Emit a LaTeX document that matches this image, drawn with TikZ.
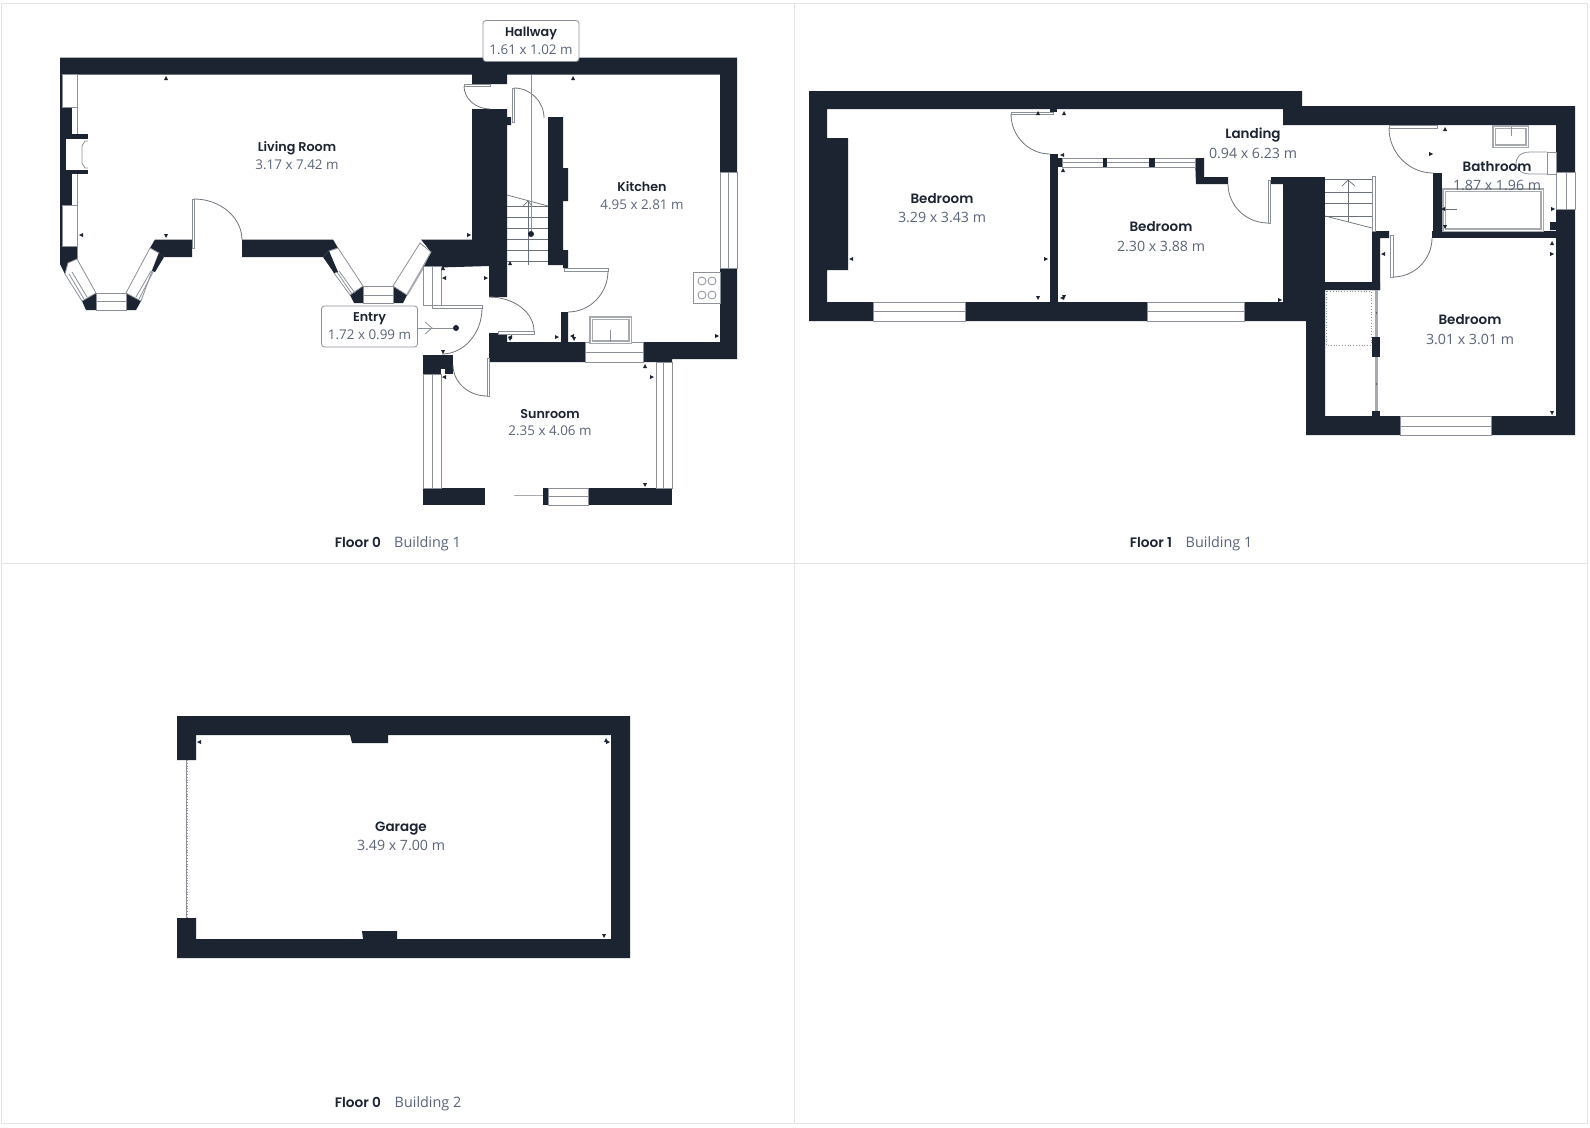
\documentclass[tikz,border=0pt]{standalone}
\usepackage{fontspec}
\setmainfont{Open Sans}
\newfontfamily\namefont{Poppins}[UprightFont=* SemiBold,Scale=0.95]
\usetikzlibrary{calc}
\definecolor{wallcol}{HTML}{1B2430}
\definecolor{dimcol}{HTML}{5B6577}
\definecolor{glasscol}{HTML}{8C9199}
\definecolor{fittingcol}{HTML}{A6A9AE}
\definecolor{panelcol}{HTML}{E4E4E4}
\tikzset{
  wall/.style={fill=wallcol,draw=none},
  glass/.style={draw=glasscol,line width=0.8pt,fill=white},
  thinline/.style={draw=glasscol,line width=0.8pt},
  fixture/.style={draw=fittingcol,line width=1.3pt,double=white,double distance=0.5pt},
  swing/.style={draw=glasscol!80!black,line width=0.8pt},
  stairline/.style={draw=wallcol!65!white,line width=0.7pt},
  roomlabel/.style={align=center,inner sep=0pt,font=\fontsize{13.4}{17.8}\selectfont,text=dimcol},
  biglabel/.style={align=center,inner sep=0pt,font=\fontsize{14.2}{19.6}\selectfont,text=dimcol},
  floorlabel/.style={inner sep=0pt,anchor=base,font=\fontsize{14.4}{18}\selectfont,text=dimcol},
  tagbox/.style={roomlabel,draw=glasscol,fill=white,rounded corners=3pt,line width=0.8pt,minimum width=96pt,minimum height=41pt},
  mkup/.pic={\fill[wallcol] (-2,2)--(2,2)--(0,-2)--cycle;},
  mkdown/.pic={\fill[wallcol] (-2,-2)--(2,-2)--(0,2)--cycle;},
  mkleft/.pic={\fill[wallcol] (2,-2)--(2,2)--(-2,0)--cycle;},
  mkright/.pic={\fill[wallcol] (-2,-2)--(-2,2)--(2,0)--cycle;},
}
\newcommand{\swingarc}[3]{\draw[swing] #1 .. controls ($#1!.55!#2$) and ($#3!.55!#2$) .. #3;}
\newcommand{\roomname}[1]{{\namefont\color{wallcol}#1}}
\begin{document}
\begin{tikzpicture}[x=1pt,y=-1pt]
\useasboundingbox (0,0) rectangle (1590,1127);
\fill[white] (0,0) rectangle (1590,1127);
% panels
\draw[panelcol,line width=1pt] (1,3) rectangle (1587,1123);
\draw[panelcol,line width=1pt] (794.5,3) -- (794.5,1123);
\draw[panelcol,line width=1pt] (1,563) -- (1587,563);

% floor 0, walls
\fill[wall] (60,57.5) -- (737,57.5) -- (737,172) -- (720,172) -- (720,74.5) -- (507,74.5) -- (507,84) -- (472,84) -- (472,74.5) -- (62,74.5) -- (62,263) -- (60,263) -- cycle;
\fill[wall] (62,107) rectangle (72,205);
\fill[wall] (72,134) rectangle (88,174);
\fill[white] (66,139) rectangle (88,170);
\draw[thinline] (88,141) -- (85,141) -- (82,146) -- (82,163) -- (85,168) -- (88,168);
\fill[wall] (60,246) -- (77,246) -- (77,259) -- (68,263) -- (65,274) -- (60,264) -- cycle;
\fill[wall] (82,301) -- (96,293) -- (96,310) -- (86,310) -- cycle;
\fill[wall] (126,293) -- (141,301) -- (136,310) -- (126,310) -- cycle;
\fill[wall] (155,239.5) -- (192,239.5) -- (192,257) -- (164,257) -- (159,253) -- (150,248) -- cycle;
\fill[wall] (242,239.5) -- (333,239.5) -- (338,248) -- (329,251) -- (323,257) -- (242,257) -- cycle;
\fill[wall] (350,295) -- (363,286) -- (363,303) -- (354,303) -- cycle;
\fill[wall] (393,286) -- (407,295) -- (403,303) -- (393,303) -- cycle;
\fill[wall] (421,239.5) -- (472,239.5) -- (472,109) -- (507,109) -- (507,117) -- (511,117) -- (511,125) -- (507,125) -- (507,297) -- (489,297) -- (489,266) -- (423,268) -- (431,252) -- cycle;
\fill[wall] (548,117) -- (563,117) -- (563,168) -- (568,168) -- (568,201) -- (563,201) -- (563,250) -- (568,250) -- (568,268) -- (563,268) -- (563,265) -- (548,265) -- cycle;
\fill[wall] (720,268) -- (737,268) -- (737,359) -- (672,359) -- (672,362) -- (643,362) -- (643,342) -- (720,342) -- cycle;
\fill[wall] (489,333) -- (507,333) -- (507,342) -- (561,342) -- (561,312) -- (568,312) -- (568,342) -- (585,342) -- (585,362) -- (489,362) -- cycle;
\fill[wall] (423,355) rectangle (453,374);
\fill[white] (441,369) rectangle (445,374);
\fill[wall] (423,488) rectangle (485,505);
\fill[wall] (543,488) rectangle (548,505);
\fill[wall] (588,488) rectangle (672,505);

% floor 0, windows
\draw[glass] (62,74.5) rectangle (77,107);
\draw[glass] (62,205) rectangle (77,246);
\draw[thinline] (77,74.5) -- (77,134) (77,174) -- (77,259);
\draw[glass] (68,263) -- (77,259) -- (96,293) -- (82,301) -- (65,274) -- cycle;
\draw[thinline] (69,274) -- (84,299) (72,272) -- (87,297);
\draw[glass] (96,293) rectangle (126,310);
\draw[thinline] (96,301) -- (126,301);
\draw[glass] (126,293) -- (150,248) -- (159,253) -- (152,271) -- (141,301) -- cycle;
\fill[wall] (159,253) -- (164,257) -- (155,272) -- (152,271) -- cycle;
\draw[thinline] (136,297) -- (151,271) (139,299) -- (153,272);
\draw[glass] (329,251) -- (338,248) -- (363,286) -- (350,295) -- (334,273) -- cycle;
\fill[wall] (329,251) -- (323,257) -- (334,273) -- (338,272) -- cycle;
\draw[thinline] (337,272) -- (352,294) (339,271) -- (355,293);
\draw[glass] (363,286) rectangle (393,303);
\draw[thinline] (363,295) -- (393,295);
\draw[glass] (393,286) -- (420,243) -- (431,252) -- (407,295) -- cycle;
\draw[fittingcol,line width=1.8pt] (407,295) -- (423,268);
\draw[glass] (720,172) rectangle (737,268);
\draw[thinline] (728.5,172) -- (728.5,268);
\draw[glass] (585,342) rectangle (643,362);
\draw[thinline] (585,352) -- (643,352);
\draw[glass] (423,266) rectangle (441,305);
\draw[thinline] (432,266) -- (432,305);
\draw[glass] (423,374) rectangle (441,488);
\draw[thinline] (432,374) -- (432,488);
\draw[glass] (548,488) rectangle (588,505);
\draw[thinline] (548,496) -- (588,496);
\draw[glass] (656,362) rectangle (672,488);
\draw[thinline] (663,362) -- (663,488);

% floor 0, doors
\draw[glass] (192,199) rectangle (194,248);
\swingarc{(194,199)}{(242,199)}{(242,240)}
\draw[glass] (464,84) rectangle (490,86);
\swingarc{(464,86)}{(464,109)}{(490,109)}
\draw[glass] (512,88) rectangle (514,122);
\swingarc{(514,88)}{(544,88)}{(544,118)}
\draw[glass] (564,268) rectangle (608,271);
\swingarc{(608,271)}{(608,312)}{(568,312)}
\draw[glass] (432,305) rectangle (482,308);
\swingarc{(482,308)}{(482,354)}{(442,354)}
\draw[glass] (498,331) rectangle (534,334);
\swingarc{(489,297)}{(534,297)}{(534,331)}
\draw[glass] (487,358) rectangle (489,396);
\swingarc{(453,365)}{(453,396)}{(487,396)}
\draw[fittingcol,line width=0.7pt,double=white,double distance=0.6pt] (514,496) -- (543,496);

% floor 0, stairs and fittings
\foreach \y in {206,217,228,239,250,261} \draw[stairline] (507,\y) -- (548,\y);
\draw[stairline] (507,195) -- (548,206);
\draw[stairline] (528,201) -- (528,265);
\draw[stairline] (523,206) -- (528,201) -- (532,206);
\draw[thinline] (531,74.5) -- (531,234);
\fill[wallcol] (531,234) circle (3);
\draw[thinline] (417,328) -- (456,328);
\draw[thinline] (425,322) -- (432,328) -- (425,334);
\fill[wallcol] (456,328) circle (3);
\draw[fixture] (591,318) rectangle (630,342);
\draw[thinline] (610,330) -- (610,342);
\draw[thinline] (693,272) rectangle (720,303);
\foreach \x/\y in {702/281,712/281,702/295,712/295} \draw[thinline] (\x,\y) circle (4);

\foreach \x/\y in {166/78,573/78,510/263,443/268,645/366} \pic at (\x,\y) {mkup};
\foreach \x/\y in {166/236,510/339,574/339,443/352,645/485} \pic at (\x,\y) {mkdown};
\foreach \x/\y in {81/235,444/278,510/337,572/336,444/377} \pic at (\x,\y) {mkleft};
\foreach \x/\y in {469/235,486/278,557/337,717/336,652/377} \pic at (\x,\y) {mkright};

% floor 1, walls
\fill[wall] (809,91) -- (1302,91) -- (1302,106) -- (1575,106) -- (1575,172) -- (1556,172) -- (1556,125) -- (1283,125) -- (1283,109) -- (827,109) -- (827,138) -- (848,138) -- (848,270) -- (827,270) -- (827,302) -- (1283,302) -- (1283,184) -- (1271,184) -- (1271,177) -- (1372,177) -- (1372,282) -- (1380,282) -- (1380,290) -- (1325,290) -- (1325,416) -- (1556,416) -- (1556,230) -- (1550,230) -- (1550,222) -- (1556,222) -- (1556,209) -- (1575,209) -- (1575,435) -- (1306,435) -- (1306,321) -- (809,321) -- cycle;
\fill[white] (1325,177) rectangle (1372,282);
\fill[wall] (1372,231) -- (1389,231) -- (1389,238) -- (1380,238) -- (1380,290) -- (1372,290) -- cycle;
\fill[wall] (1050,154) rectangle (1058,302);
\fill[wall] (1050,158) rectangle (1062,167);
\fill[wall] (1050,109) rectangle (1057,112);
\fill[wall] (1195,158) -- (1204,158) -- (1204,177) -- (1228,177) -- (1228,184) -- (1196,184) -- cycle;
\fill[wall] (1433,173) rectangle (1442,232);
\fill[wall] (1432,231) rectangle (1556,238);
\fill[wall] (1372,337) rectangle (1380,357);
\fill[wall] (1372,411) rectangle (1380,416);

% floor 1, windows and doors
\draw[glass] (873,302) rectangle (965,321);
\draw[thinline] (873,311) -- (965,311);
\draw[glass] (1147,302) rectangle (1244,321);
\draw[thinline] (1147,311) -- (1244,311);
\draw[glass] (1400,416) rectangle (1491,435);
\draw[thinline] (1400,426) -- (1491,426);
\draw[glass] (1556,172) rectangle (1575,209);
\draw[thinline] (1566,172) -- (1566,209);
\draw[glass] (1062,158) rectangle (1195,167);
\draw[thinline] (1062,162.5) -- (1195,162.5);
\fill[wall] (1103,158) rectangle (1107,167);
\fill[wall] (1149,158) rectangle (1155,167);
\draw[glass] (1011,112) rectangle (1053,114);
\swingarc{(1011,114)}{(1011,154)}{(1050,154)}
\draw[glass] (1268,180) rectangle (1270,223);
\swingarc{(1228,184)}{(1228,223)}{(1268,223)}
\draw[glass] (1389,125) rectangle (1437,128);
\swingarc{(1389,128)}{(1389,173)}{(1433,173)}
\draw[glass] (1390,235) rectangle (1393,277);
\swingarc{(1432,238)}{(1432,277)}{(1393,277)}
\draw[fittingcol,line width=3pt] (1376,290) -- (1376,337) (1376,357) -- (1376,411);
\fill[wallcol!70!white] (1375.5,312) rectangle (1376.5,314);
\fill[wallcol!70!white] (1375.5,383) rectangle (1376.5,385);

% floor 1, stairs and fittings
\foreach \y in {179,192,203,216} \draw[stairline] (1325,\y) -- (1372,\y);
\draw[stairline] (1325,216) -- (1372,228);
\draw[stairline] (1348,179) -- (1348,222);
\draw[stairline] (1342,186) -- (1348,180) -- (1355,186);
\draw[glass] (1372,176) rectangle (1375,231);
\draw[glasscol,dotted,line width=0.8pt] (1326,291) rectangle (1371,345);
\draw[fixture] (1444,190) rectangle (1542,230);
\draw[stairline] (1443,209) -- (1457,209);
\draw[fixture] (1494,127) rectangle (1527,146);
\draw[thinline] (1511,127) -- (1511,136);
\draw[thinline] (1547,152) rectangle (1556,174);
\draw[thinline] (1547,152) -- (1530,152) .. controls (1518,152) and (1516,160) .. (1516,163) .. controls (1516,168) and (1520,174) .. (1530,174) -- (1547,174);

\foreach \x/\y in {1038/113,1064/113,1063/170,1445/129,1552/243} \pic at (\x,\y) {mkup};
\foreach \x/\y in {1038/298,1445/227,1552/413,1064/297} \pic at (\x,\y) {mkdown};
\foreach \x/\y in {851/259,1062/155,1062/298,1383/254,1443/209} \pic at (\x,\y) {mkleft};
\foreach \x/\y in {1046/259,1280/300,1431/154,1553/209,1552/254} \pic at (\x,\y) {mkright};

% garage
\fill[wall] (177,716) -- (630,716) -- (630,958) -- (177,958) -- (177,918) -- (196,918) -- (196,939) -- (363,939) -- (362,931) -- (397,931) -- (397,939) -- (611,939) -- (611,735) -- (388,735) -- (388,743) -- (352,743) -- (350,735) -- (196,735) -- (196,760) -- (177,760) -- cycle;
\draw[glasscol,line width=0.8pt] (186.5,760) -- (186.5,918);
\draw[glasscol,dotted,line width=0.8pt] (187.5,760) -- (187.5,918);
\pic at (199,742) {mkleft};
\pic at (606,740) {mkup};
\pic at (608,742) {mkright};
\pic at (604,936) {mkdown};

% labels
\node[roomlabel] (livingroom) at (297,155.5) {\roomname{Living Room}\\3.17 x 7.42 m};
\node[roomlabel] (kitchen) at (642,195.5) {\roomname{Kitchen}\\4.95 x 2.81 m};
\node[roomlabel] (sunroom) at (550,422.5) {\roomname{Sunroom}\\2.35 x 4.06 m};
\node[tagbox] (hallway) at (531,41) {\roomname{Hallway}\\1.61 x 1.02 m};
\node[tagbox] (entry) at (369.5,326.5) {\roomname{Entry}\\1.72 x 0.99 m};
\node[biglabel] (bedrooma) at (942,208) {\roomname{Bedroom}\\3.29 x 3.43 m};
\node[biglabel] (bedroomb) at (1161,236.5) {\roomname{Bedroom}\\2.30 x 3.88 m};
\node[biglabel] (bedroomc) at (1470,329.5) {\roomname{Bedroom}\\3.01 x 3.01 m};
\node[biglabel] (landing) at (1253,143.5) {\roomname{Landing}\\0.94 x 6.23 m};
\node[biglabel] (bathroom) at (1497,176) {\roomname{Bathroom}\\1.87 x 1.96 m};
\node[biglabel] (garage) at (401,836.5) {\roomname{Garage}\\3.49 x 7.00 m};
\node[floorlabel] (flooraname) at (358,547) {\roomname{Floor 0}};
\node[floorlabel] (flooratext) at (427.5,547) {Building 1};
\node[floorlabel] (floorbname) at (1151,547) {\roomname{Floor 1}};
\node[floorlabel] (floorbtext) at (1219,547) {Building 1};
\node[floorlabel] (floorcname) at (358,1107) {\roomname{Floor 0}};
\node[floorlabel] (floorctext) at (428,1107) {Building 2};
\end{tikzpicture}
\end{document}
